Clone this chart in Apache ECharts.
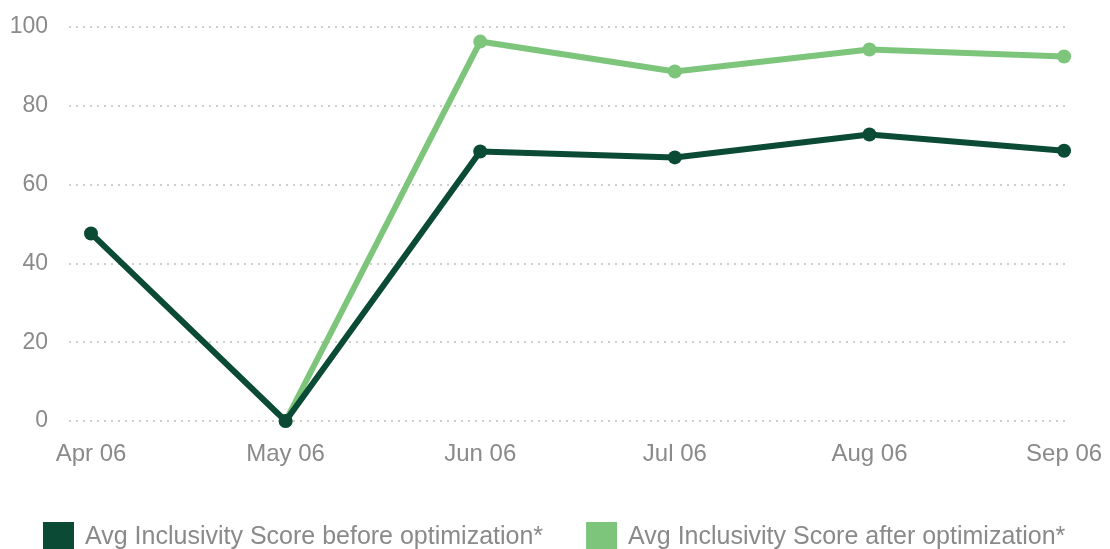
<!DOCTYPE html>
<html><head><meta charset="utf-8">
<script src="https://cdn.jsdelivr.net/npm/echarts@6/dist/echarts.min.js"></script>
<style>html,body{margin:0;padding:0;background:#fff}#c{width:1110px;height:549px}</style>
</head><body><div id="c"></div>
<script>
const categories = ['Apr 06','May 06','Jun 06','Jul 06','Aug 06','Sep 06'];
const beforeVals = [47.6, 0, 68.4, 66.9, 72.7, 68.6];
const afterVals = [null, 0, 96.3, 88.7, 94.3, 92.5];
const yTicks = [0, 20, 40, 60, 80, 100];
const seriesNames = ['Avg Inclusivity Score before optimization*', 'Avg Inclusivity Score after optimization*'];
const colors = ['#0b4b35', '#7cc57b'];

const toPts = arr => arr.map((v,i)=>[i,v]).filter(p=>p[1]!==null);
const chart = echarts.init(document.getElementById('c'));
const font = 'Liberation Sans, Arial, sans-serif';
chart.setOption({
  animation:false,
  grid:{left:69,right:43,top:27,bottom:128},
  xAxis:{type:'value',min:-0.113,max:5.015,
    axisLine:{show:false},axisTick:{show:false},splitLine:{show:false},
    axisLabel:{customValues:categories.map((c,i)=>i),formatter:v=>categories[Math.round(v)]||'',
      color:'#8a8a8a',fontSize:24,fontFamily:font,margin:21}},
  yAxis:{type:'value',min:0,max:100,interval:20,
    axisLine:{show:false},axisTick:{show:false},
    axisLabel:{color:'#8a8a8a',fontSize:23,fontFamily:font,margin:21,
      formatter:v=>yTicks.includes(v)?String(v):''},
    splitLine:{lineStyle:{color:'#cfcfcf',width:2,type:[2,5]}}},
  legend:{top:522,left:43,padding:0,itemWidth:31,itemHeight:30,itemGap:43,icon:'rect',
    data:seriesNames,
    textStyle:{color:'#8a8a8a',fontSize:25,fontFamily:font,padding:[0,0,0,6]}},
  series:[
    {name:seriesNames[0],type:'line',data:toPts(beforeVals),z:3,
     color:colors[0],lineStyle:{width:6,color:colors[0]},symbol:'circle',symbolSize:14,
     itemStyle:{color:colors[0]}},
    {name:seriesNames[1],type:'line',data:toPts(afterVals),z:2,
     color:colors[1],lineStyle:{width:6,color:colors[1]},symbol:'circle',symbolSize:14,
     itemStyle:{color:colors[1]}}
  ]
});
</script></body></html>
